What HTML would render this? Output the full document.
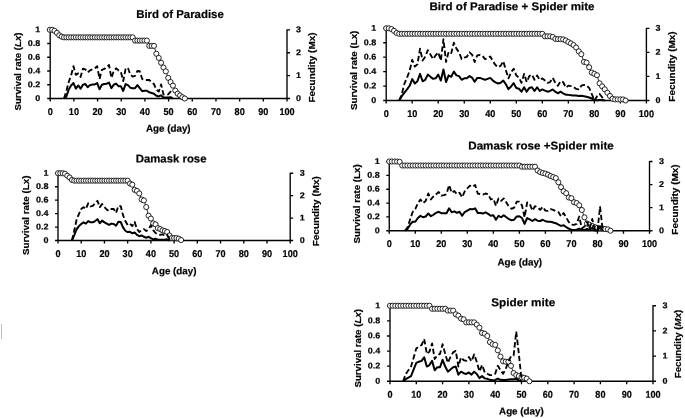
<!DOCTYPE html>
<html><head><meta charset="utf-8"><title>Survival rate and fecundity</title>
<style>
html,body{margin:0;padding:0;background:#fff;}
body{width:685px;height:418px;overflow:hidden;}
svg{display:block;font-family:"Liberation Sans", sans-serif;font-weight:bold;fill:#000;filter:blur(0.35px);}
text{stroke:#000;stroke-width:0.2px;}
</style></head>
<body>
<svg width="685" height="418" viewBox="0 0 685 418">
<rect width="685" height="418" fill="#fff"/>
<g>
<path d="M50.2 29.3V98.5H287V29.3M47.2 98.5H50.2M47.2 84.76H50.2M47.2 71.02H50.2M47.2 57.28H50.2M47.2 43.54H50.2M47.2 29.8H50.2M287 98.5H290M287 75.6H290M287 52.7H290M287 29.8H290M50.2 98.5V101.5M73.88 98.5V101.5M97.56 98.5V101.5M121.24 98.5V101.5M144.92 98.5V101.5M168.6 98.5V101.5M192.28 98.5V101.5M215.96 98.5V101.5M239.64 98.5V101.5M263.32 98.5V101.5M287 98.5V101.5" fill="none" stroke="#000" stroke-width="1.35"/>
<text x="40.3" y="100.91" font-size="8.4" text-anchor="end" textLength="5" lengthAdjust="spacingAndGlyphs" transform="rotate(0.04 40.3 100.91)">0</text>
<text x="40.3" y="87.17" font-size="8.4" text-anchor="end" textLength="12.49" lengthAdjust="spacingAndGlyphs" transform="rotate(0.04 40.3 87.17)">0.2</text>
<text x="40.3" y="73.43" font-size="8.4" text-anchor="end" textLength="12.49" lengthAdjust="spacingAndGlyphs" transform="rotate(0.04 40.3 73.43)">0.4</text>
<text x="40.3" y="59.69" font-size="8.4" text-anchor="end" textLength="12.49" lengthAdjust="spacingAndGlyphs" transform="rotate(0.04 40.3 59.69)">0.6</text>
<text x="40.3" y="45.95" font-size="8.4" text-anchor="end" textLength="12.49" lengthAdjust="spacingAndGlyphs" transform="rotate(0.04 40.3 45.95)">0.8</text>
<text x="40.3" y="32.21" font-size="8.4" text-anchor="end" textLength="5" lengthAdjust="spacingAndGlyphs" transform="rotate(0.04 40.3 32.21)">1</text>
<text x="296.1" y="101.01" font-size="8.4" text-anchor="start" textLength="5" lengthAdjust="spacingAndGlyphs" transform="rotate(0.04 296.1 101.01)">0</text>
<text x="296.1" y="78.11" font-size="8.4" text-anchor="start" textLength="5" lengthAdjust="spacingAndGlyphs" transform="rotate(0.04 296.1 78.11)">1</text>
<text x="296.1" y="55.21" font-size="8.4" text-anchor="start" textLength="5" lengthAdjust="spacingAndGlyphs" transform="rotate(0.04 296.1 55.21)">2</text>
<text x="296.1" y="32.31" font-size="8.4" text-anchor="start" textLength="5" lengthAdjust="spacingAndGlyphs" transform="rotate(0.04 296.1 32.31)">3</text>
<text x="50.2" y="114.94" font-size="9.9" text-anchor="middle" textLength="5.06" lengthAdjust="spacingAndGlyphs" transform="rotate(0.04 50.2 114.94)">0</text>
<text x="73.88" y="114.94" font-size="9.9" text-anchor="middle" textLength="10.13" lengthAdjust="spacingAndGlyphs" transform="rotate(0.04 73.88 114.94)">10</text>
<text x="97.56" y="114.94" font-size="9.9" text-anchor="middle" textLength="10.13" lengthAdjust="spacingAndGlyphs" transform="rotate(0.04 97.56 114.94)">20</text>
<text x="121.24" y="114.94" font-size="9.9" text-anchor="middle" textLength="10.13" lengthAdjust="spacingAndGlyphs" transform="rotate(0.04 121.24 114.94)">30</text>
<text x="144.92" y="114.94" font-size="9.9" text-anchor="middle" textLength="10.13" lengthAdjust="spacingAndGlyphs" transform="rotate(0.04 144.92 114.94)">40</text>
<text x="168.6" y="114.94" font-size="9.9" text-anchor="middle" textLength="10.13" lengthAdjust="spacingAndGlyphs" transform="rotate(0.04 168.6 114.94)">50</text>
<text x="192.28" y="114.94" font-size="9.9" text-anchor="middle" textLength="10.13" lengthAdjust="spacingAndGlyphs" transform="rotate(0.04 192.28 114.94)">60</text>
<text x="215.96" y="114.94" font-size="9.9" text-anchor="middle" textLength="10.13" lengthAdjust="spacingAndGlyphs" transform="rotate(0.04 215.96 114.94)">70</text>
<text x="239.64" y="114.94" font-size="9.9" text-anchor="middle" textLength="10.13" lengthAdjust="spacingAndGlyphs" transform="rotate(0.04 239.64 114.94)">80</text>
<text x="263.32" y="114.94" font-size="9.9" text-anchor="middle" textLength="10.13" lengthAdjust="spacingAndGlyphs" transform="rotate(0.04 263.32 114.94)">90</text>
<text x="287" y="114.94" font-size="9.9" text-anchor="middle" textLength="15.19" lengthAdjust="spacingAndGlyphs" transform="rotate(0.04 287 114.94)">100</text>
<text x="180" y="18" font-size="11.4" text-anchor="middle" textLength="87.7" lengthAdjust="spacingAndGlyphs" transform="rotate(0.04 180 18)">Bird of Paradise</text>
<text x="168.3" y="131.87" font-size="9.9" text-anchor="middle" textLength="44.7" lengthAdjust="spacingAndGlyphs" transform="rotate(0.04 168.3 131.87)">Age (day)</text>
<text x="21.12" y="71.5" font-size="9.2" text-anchor="middle" textLength="78" lengthAdjust="spacingAndGlyphs" transform="rotate(-90 21.12 71.5)">Survival rate (<tspan font-style="italic">Lx</tspan>)</text>
<text x="314.62" y="67.5" font-size="9.2" text-anchor="middle" textLength="70" lengthAdjust="spacingAndGlyphs" transform="rotate(-90 314.62 67.5)">Fecundity (Mx)</text>
<polyline points="49.8,29.8 52.17,29.8 54.54,30.83 56.9,32.89 59.27,35.3 61.64,36.67 64.01,37.36 66.38,37.36 68.74,37.36 71.11,37.36 73.48,37.36 75.85,37.36 78.22,37.36 80.58,37.36 82.95,37.36 85.32,37.36 87.69,37.36 90.06,37.36 92.42,37.36 94.79,37.36 97.16,37.36 99.53,37.36 101.9,37.36 104.26,37.36 106.63,37.36 109,37.36 111.37,37.36 113.74,37.36 116.1,37.36 118.47,37.36 120.84,37.36 123.21,37.36 125.58,37.36 127.94,37.36 130.31,37.36 132.68,37.36 135.05,40.59 137.42,40.59 139.78,40.59 142.15,40.59 144.52,40.59 146.89,40.59 149.26,45.88 151.62,45.88 153.99,45.88 156.36,53.78 158.73,57.9 161.1,62.78 163.46,67.52 165.83,71.36 168.2,77.89 170.57,82.01 172.94,85.65 175.3,90.6 177.67,93.69 180.04,95.41 182.41,97.26 184.78,98.5" fill="none" stroke="#000" stroke-width="0.8"/>
<g fill="#fff" stroke="#000" stroke-width="0.85">
<circle cx="49.8" cy="29.8" r="2.55"/>
<circle cx="52.17" cy="29.8" r="2.55"/>
<circle cx="54.54" cy="30.83" r="2.55"/>
<circle cx="56.9" cy="32.89" r="2.55"/>
<circle cx="59.27" cy="35.3" r="2.55"/>
<circle cx="61.64" cy="36.67" r="2.55"/>
<circle cx="64.01" cy="37.36" r="2.55"/>
<circle cx="66.38" cy="37.36" r="2.55"/>
<circle cx="68.74" cy="37.36" r="2.55"/>
<circle cx="71.11" cy="37.36" r="2.55"/>
<circle cx="73.48" cy="37.36" r="2.55"/>
<circle cx="75.85" cy="37.36" r="2.55"/>
<circle cx="78.22" cy="37.36" r="2.55"/>
<circle cx="80.58" cy="37.36" r="2.55"/>
<circle cx="82.95" cy="37.36" r="2.55"/>
<circle cx="85.32" cy="37.36" r="2.55"/>
<circle cx="87.69" cy="37.36" r="2.55"/>
<circle cx="90.06" cy="37.36" r="2.55"/>
<circle cx="92.42" cy="37.36" r="2.55"/>
<circle cx="94.79" cy="37.36" r="2.55"/>
<circle cx="97.16" cy="37.36" r="2.55"/>
<circle cx="99.53" cy="37.36" r="2.55"/>
<circle cx="101.9" cy="37.36" r="2.55"/>
<circle cx="104.26" cy="37.36" r="2.55"/>
<circle cx="106.63" cy="37.36" r="2.55"/>
<circle cx="109" cy="37.36" r="2.55"/>
<circle cx="111.37" cy="37.36" r="2.55"/>
<circle cx="113.74" cy="37.36" r="2.55"/>
<circle cx="116.1" cy="37.36" r="2.55"/>
<circle cx="118.47" cy="37.36" r="2.55"/>
<circle cx="120.84" cy="37.36" r="2.55"/>
<circle cx="123.21" cy="37.36" r="2.55"/>
<circle cx="125.58" cy="37.36" r="2.55"/>
<circle cx="127.94" cy="37.36" r="2.55"/>
<circle cx="130.31" cy="37.36" r="2.55"/>
<circle cx="132.68" cy="37.36" r="2.55"/>
<circle cx="135.05" cy="40.59" r="2.55"/>
<circle cx="137.42" cy="40.59" r="2.55"/>
<circle cx="139.78" cy="40.59" r="2.55"/>
<circle cx="142.15" cy="40.59" r="2.55"/>
<circle cx="144.52" cy="40.59" r="2.55"/>
<circle cx="146.89" cy="40.59" r="2.55"/>
<circle cx="149.26" cy="45.88" r="2.55"/>
<circle cx="151.62" cy="45.88" r="2.55"/>
<circle cx="153.99" cy="45.88" r="2.55"/>
<circle cx="156.36" cy="53.78" r="2.55"/>
<circle cx="158.73" cy="57.9" r="2.55"/>
<circle cx="161.1" cy="62.78" r="2.55"/>
<circle cx="163.46" cy="67.52" r="2.55"/>
<circle cx="165.83" cy="71.36" r="2.55"/>
<circle cx="168.2" cy="77.89" r="2.55"/>
<circle cx="170.57" cy="82.01" r="2.55"/>
<circle cx="172.94" cy="85.65" r="2.55"/>
<circle cx="175.3" cy="90.6" r="2.55"/>
<circle cx="177.67" cy="93.69" r="2.55"/>
<circle cx="180.04" cy="95.41" r="2.55"/>
<circle cx="182.41" cy="97.26" r="2.55"/>
<circle cx="184.78" cy="98.5" r="2.55"/>
</g>
<polyline points="64.01,98.5 66.38,90.94 68.74,82.01 71.11,75.42 73.48,66.21 75.85,74.87 78.22,73.36 80.58,76.93 82.95,68.75 85.32,69.3 87.69,72.39 90.06,70.33 92.42,69.3 94.79,68.27 97.16,66.21 99.53,78.99 101.9,69.78 104.26,68.96 106.63,67.24 109,64.97 111.37,77.89 113.74,71.02 116.1,68.27 118.47,70.33 120.84,71.71 123.21,81.05 125.58,68.96 127.94,67.72 130.31,74.87 132.68,76.52 135.05,75.83 137.42,71.02 139.78,71.29 142.15,78.99 144.52,79.95 146.89,79.95 149.26,79.95 151.62,82.56 153.99,84.07 156.36,89.71 158.73,91.63 161.1,84.42 163.46,94.38 165.83,94.79 168.2,94.38 170.57,91.63 172.94,93.69" fill="none" stroke="#000" stroke-width="1.85" stroke-dasharray="5.4 2.7" stroke-linejoin="round"/>
<polyline points="64.01,98.5 66.38,96.44 68.74,89.57 71.11,85.45 73.48,83.04 75.85,88.68 78.22,85.45 80.58,88.68 82.95,84.76 85.32,84.07 87.69,87.16 90.06,85.1 92.42,84.42 94.79,84.42 97.16,83.04 99.53,89.23 101.9,84.76 104.26,84.07 106.63,83.73 109,82.56 111.37,88.19 113.74,84.76 116.1,83.59 118.47,86.13 120.84,86.13 123.21,90.94 125.58,84.07 127.94,85.1 130.31,87.65 132.68,88.19 135.05,88.19 137.42,85.1 139.78,88.19 142.15,91.22 144.52,90.74 146.89,90.74 149.26,92.32 151.62,93 153.99,93.69 156.36,95.75 158.73,96.44 161.1,95.34 163.46,97.4 165.83,97.4 168.2,97.4 170.57,97.26 172.94,98.5" fill="none" stroke="#000" stroke-width="2.0" stroke-linejoin="round"/>
</g>
<g>
<path d="M386.2 27.8V100.5H646.4V27.8M383.2 100.5H386.2M383.2 86.06H386.2M383.2 71.62H386.2M383.2 57.18H386.2M383.2 42.74H386.2M383.2 28.3H386.2M646.4 100.5H649.4M646.4 76.43H649.4M646.4 52.37H649.4M646.4 28.3H649.4M386.2 100.5V103.5M412.22 100.5V103.5M438.24 100.5V103.5M464.26 100.5V103.5M490.28 100.5V103.5M516.3 100.5V103.5M542.32 100.5V103.5M568.34 100.5V103.5M594.36 100.5V103.5M620.38 100.5V103.5M646.4 100.5V103.5" fill="none" stroke="#000" stroke-width="1.35"/>
<text x="376.3" y="102.91" font-size="8.4" text-anchor="end" textLength="5" lengthAdjust="spacingAndGlyphs" transform="rotate(0.04 376.3 102.91)">0</text>
<text x="376.3" y="88.47" font-size="8.4" text-anchor="end" textLength="12.49" lengthAdjust="spacingAndGlyphs" transform="rotate(0.04 376.3 88.47)">0.2</text>
<text x="376.3" y="74.03" font-size="8.4" text-anchor="end" textLength="12.49" lengthAdjust="spacingAndGlyphs" transform="rotate(0.04 376.3 74.03)">0.4</text>
<text x="376.3" y="59.59" font-size="8.4" text-anchor="end" textLength="12.49" lengthAdjust="spacingAndGlyphs" transform="rotate(0.04 376.3 59.59)">0.6</text>
<text x="376.3" y="45.15" font-size="8.4" text-anchor="end" textLength="12.49" lengthAdjust="spacingAndGlyphs" transform="rotate(0.04 376.3 45.15)">0.8</text>
<text x="376.3" y="30.71" font-size="8.4" text-anchor="end" textLength="5" lengthAdjust="spacingAndGlyphs" transform="rotate(0.04 376.3 30.71)">1</text>
<text x="655.5" y="103.01" font-size="8.4" text-anchor="start" textLength="5" lengthAdjust="spacingAndGlyphs" transform="rotate(0.04 655.5 103.01)">0</text>
<text x="655.5" y="78.94" font-size="8.4" text-anchor="start" textLength="5" lengthAdjust="spacingAndGlyphs" transform="rotate(0.04 655.5 78.94)">1</text>
<text x="655.5" y="54.87" font-size="8.4" text-anchor="start" textLength="5" lengthAdjust="spacingAndGlyphs" transform="rotate(0.04 655.5 54.87)">2</text>
<text x="655.5" y="30.81" font-size="8.4" text-anchor="start" textLength="5" lengthAdjust="spacingAndGlyphs" transform="rotate(0.04 655.5 30.81)">3</text>
<text x="386.2" y="117.14" font-size="9.9" text-anchor="middle" textLength="5.06" lengthAdjust="spacingAndGlyphs" transform="rotate(0.04 386.2 117.14)">0</text>
<text x="412.22" y="117.14" font-size="9.9" text-anchor="middle" textLength="10.13" lengthAdjust="spacingAndGlyphs" transform="rotate(0.04 412.22 117.14)">10</text>
<text x="438.24" y="117.14" font-size="9.9" text-anchor="middle" textLength="10.13" lengthAdjust="spacingAndGlyphs" transform="rotate(0.04 438.24 117.14)">20</text>
<text x="464.26" y="117.14" font-size="9.9" text-anchor="middle" textLength="10.13" lengthAdjust="spacingAndGlyphs" transform="rotate(0.04 464.26 117.14)">30</text>
<text x="490.28" y="117.14" font-size="9.9" text-anchor="middle" textLength="10.13" lengthAdjust="spacingAndGlyphs" transform="rotate(0.04 490.28 117.14)">40</text>
<text x="516.3" y="117.14" font-size="9.9" text-anchor="middle" textLength="10.13" lengthAdjust="spacingAndGlyphs" transform="rotate(0.04 516.3 117.14)">50</text>
<text x="542.32" y="117.14" font-size="9.9" text-anchor="middle" textLength="10.13" lengthAdjust="spacingAndGlyphs" transform="rotate(0.04 542.32 117.14)">60</text>
<text x="568.34" y="117.14" font-size="9.9" text-anchor="middle" textLength="10.13" lengthAdjust="spacingAndGlyphs" transform="rotate(0.04 568.34 117.14)">70</text>
<text x="594.36" y="117.14" font-size="9.9" text-anchor="middle" textLength="10.13" lengthAdjust="spacingAndGlyphs" transform="rotate(0.04 594.36 117.14)">80</text>
<text x="620.38" y="117.14" font-size="9.9" text-anchor="middle" textLength="10.13" lengthAdjust="spacingAndGlyphs" transform="rotate(0.04 620.38 117.14)">90</text>
<text x="646.4" y="117.14" font-size="9.9" text-anchor="middle" textLength="15.19" lengthAdjust="spacingAndGlyphs" transform="rotate(0.04 646.4 117.14)">100</text>
<text x="512" y="10.3" font-size="11.4" text-anchor="middle" textLength="165" lengthAdjust="spacingAndGlyphs" transform="rotate(0.04 512 10.3)">Bird of Paradise + Spider mite</text>
<text x="357.02" y="70.3" font-size="9.2" text-anchor="middle" textLength="79.4" lengthAdjust="spacingAndGlyphs" transform="rotate(-90 357.02 70.3)">Survival rate (Lx)</text>
<text x="674.72" y="66.5" font-size="9.2" text-anchor="middle" textLength="70.4" lengthAdjust="spacingAndGlyphs" transform="rotate(-90 674.72 66.5)">Fecundity (Mx)</text>
<polyline points="386.2,28.3 388.8,28.3 391.4,29.02 394.01,30.83 396.61,32.99 399.21,33.79 401.81,33.79 404.41,33.79 407.02,33.79 409.62,33.79 412.22,33.79 414.82,33.79 417.42,33.79 420.03,33.79 422.63,33.79 425.23,33.79 427.83,33.79 430.43,33.79 433.04,33.79 435.64,33.79 438.24,33.79 440.84,33.79 443.44,33.79 446.05,33.79 448.65,33.79 451.25,33.79 453.85,33.79 456.45,33.79 459.06,33.79 461.66,33.79 464.26,33.79 466.86,33.79 469.46,33.79 472.07,33.79 474.67,33.79 477.27,33.79 479.87,33.79 482.47,33.79 485.08,33.79 487.68,33.79 490.28,33.79 492.88,33.79 495.48,33.79 498.09,33.79 500.69,33.79 503.29,33.79 505.89,33.79 508.49,33.79 511.1,33.79 513.7,33.79 516.3,33.79 518.9,33.79 521.5,33.79 524.11,33.79 526.71,33.79 529.31,33.79 531.91,33.79 534.51,33.79 537.12,33.79 539.72,33.79 542.32,33.79 544.92,36.31 547.52,36.31 550.13,36.31 552.73,36.96 555.33,38.91 557.93,39.13 560.53,39.13 563.14,39.35 565.74,40.5 568.34,42.02 570.94,43.39 573.54,45.12 576.15,47.51 578.75,51.33 581.35,54.22 583.95,61.87 586.55,62.59 589.16,67.22 591.76,72.63 594.36,73.86 596.96,75.23 599.56,83.32 602.17,86.35 604.77,89.31 607.37,92.77 609.97,95.95 612.57,98.77 615.18,99.42 617.78,99.42 620.38,99.42 622.98,99.42 625.58,100.5" fill="none" stroke="#000" stroke-width="0.8"/>
<g fill="#fff" stroke="#000" stroke-width="0.85">
<circle cx="386.2" cy="28.3" r="2.55"/>
<circle cx="388.8" cy="28.3" r="2.55"/>
<circle cx="391.4" cy="29.02" r="2.55"/>
<circle cx="394.01" cy="30.83" r="2.55"/>
<circle cx="396.61" cy="32.99" r="2.55"/>
<circle cx="399.21" cy="33.79" r="2.55"/>
<circle cx="401.81" cy="33.79" r="2.55"/>
<circle cx="404.41" cy="33.79" r="2.55"/>
<circle cx="407.02" cy="33.79" r="2.55"/>
<circle cx="409.62" cy="33.79" r="2.55"/>
<circle cx="412.22" cy="33.79" r="2.55"/>
<circle cx="414.82" cy="33.79" r="2.55"/>
<circle cx="417.42" cy="33.79" r="2.55"/>
<circle cx="420.03" cy="33.79" r="2.55"/>
<circle cx="422.63" cy="33.79" r="2.55"/>
<circle cx="425.23" cy="33.79" r="2.55"/>
<circle cx="427.83" cy="33.79" r="2.55"/>
<circle cx="430.43" cy="33.79" r="2.55"/>
<circle cx="433.04" cy="33.79" r="2.55"/>
<circle cx="435.64" cy="33.79" r="2.55"/>
<circle cx="438.24" cy="33.79" r="2.55"/>
<circle cx="440.84" cy="33.79" r="2.55"/>
<circle cx="443.44" cy="33.79" r="2.55"/>
<circle cx="446.05" cy="33.79" r="2.55"/>
<circle cx="448.65" cy="33.79" r="2.55"/>
<circle cx="451.25" cy="33.79" r="2.55"/>
<circle cx="453.85" cy="33.79" r="2.55"/>
<circle cx="456.45" cy="33.79" r="2.55"/>
<circle cx="459.06" cy="33.79" r="2.55"/>
<circle cx="461.66" cy="33.79" r="2.55"/>
<circle cx="464.26" cy="33.79" r="2.55"/>
<circle cx="466.86" cy="33.79" r="2.55"/>
<circle cx="469.46" cy="33.79" r="2.55"/>
<circle cx="472.07" cy="33.79" r="2.55"/>
<circle cx="474.67" cy="33.79" r="2.55"/>
<circle cx="477.27" cy="33.79" r="2.55"/>
<circle cx="479.87" cy="33.79" r="2.55"/>
<circle cx="482.47" cy="33.79" r="2.55"/>
<circle cx="485.08" cy="33.79" r="2.55"/>
<circle cx="487.68" cy="33.79" r="2.55"/>
<circle cx="490.28" cy="33.79" r="2.55"/>
<circle cx="492.88" cy="33.79" r="2.55"/>
<circle cx="495.48" cy="33.79" r="2.55"/>
<circle cx="498.09" cy="33.79" r="2.55"/>
<circle cx="500.69" cy="33.79" r="2.55"/>
<circle cx="503.29" cy="33.79" r="2.55"/>
<circle cx="505.89" cy="33.79" r="2.55"/>
<circle cx="508.49" cy="33.79" r="2.55"/>
<circle cx="511.1" cy="33.79" r="2.55"/>
<circle cx="513.7" cy="33.79" r="2.55"/>
<circle cx="516.3" cy="33.79" r="2.55"/>
<circle cx="518.9" cy="33.79" r="2.55"/>
<circle cx="521.5" cy="33.79" r="2.55"/>
<circle cx="524.11" cy="33.79" r="2.55"/>
<circle cx="526.71" cy="33.79" r="2.55"/>
<circle cx="529.31" cy="33.79" r="2.55"/>
<circle cx="531.91" cy="33.79" r="2.55"/>
<circle cx="534.51" cy="33.79" r="2.55"/>
<circle cx="537.12" cy="33.79" r="2.55"/>
<circle cx="539.72" cy="33.79" r="2.55"/>
<circle cx="542.32" cy="33.79" r="2.55"/>
<circle cx="544.92" cy="36.31" r="2.55"/>
<circle cx="547.52" cy="36.31" r="2.55"/>
<circle cx="550.13" cy="36.31" r="2.55"/>
<circle cx="552.73" cy="36.96" r="2.55"/>
<circle cx="555.33" cy="38.91" r="2.55"/>
<circle cx="557.93" cy="39.13" r="2.55"/>
<circle cx="560.53" cy="39.13" r="2.55"/>
<circle cx="563.14" cy="39.35" r="2.55"/>
<circle cx="565.74" cy="40.5" r="2.55"/>
<circle cx="568.34" cy="42.02" r="2.55"/>
<circle cx="570.94" cy="43.39" r="2.55"/>
<circle cx="573.54" cy="45.12" r="2.55"/>
<circle cx="576.15" cy="47.51" r="2.55"/>
<circle cx="578.75" cy="51.33" r="2.55"/>
<circle cx="581.35" cy="54.22" r="2.55"/>
<circle cx="583.95" cy="61.87" r="2.55"/>
<circle cx="586.55" cy="62.59" r="2.55"/>
<circle cx="589.16" cy="67.22" r="2.55"/>
<circle cx="591.76" cy="72.63" r="2.55"/>
<circle cx="594.36" cy="73.86" r="2.55"/>
<circle cx="596.96" cy="75.23" r="2.55"/>
<circle cx="599.56" cy="83.32" r="2.55"/>
<circle cx="602.17" cy="86.35" r="2.55"/>
<circle cx="604.77" cy="89.31" r="2.55"/>
<circle cx="607.37" cy="92.77" r="2.55"/>
<circle cx="609.97" cy="95.95" r="2.55"/>
<circle cx="612.57" cy="98.77" r="2.55"/>
<circle cx="615.18" cy="99.42" r="2.55"/>
<circle cx="617.78" cy="99.42" r="2.55"/>
<circle cx="620.38" cy="99.42" r="2.55"/>
<circle cx="622.98" cy="99.42" r="2.55"/>
<circle cx="625.58" cy="100.5" r="2.55"/>
</g>
<polyline points="399.21,100.5 401.81,94 404.41,83.53 407.02,77.61 409.62,70.9 412.22,59.78 414.82,66.57 417.42,64.4 420.03,48.66 422.63,60.5 425.23,56.82 427.83,50.1 430.43,54.58 433.04,59.06 435.64,55.3 438.24,52.34 440.84,60.5 443.44,39.13 446.05,62.02 448.65,51.62 451.25,53.06 453.85,42.74 456.45,48.66 459.06,52.34 461.66,59.06 464.26,57.54 466.86,56.82 469.46,52.34 472.07,54.58 474.67,62.02 477.27,55.3 479.87,55.01 482.47,55.74 485.08,59.06 487.68,58.26 490.28,56.46 492.88,61.22 495.48,64.98 498.09,67.22 500.69,65.7 503.29,61.22 505.89,70.18 508.49,78.33 511.1,72.41 513.7,68.66 516.3,75.37 518.9,77.61 521.5,82.81 524.11,73.86 526.71,82.02 529.31,76.1 531.91,74.58 534.51,79.78 537.12,75.37 539.72,79.78 542.32,78.33 544.92,80.57 547.52,82.81 550.13,82.02 552.73,77.9 555.33,82.81 557.93,85.77 560.53,81.29 563.14,82.02 565.74,87.5 568.34,85.7 570.94,86.06 573.54,86.78 576.15,88.95 578.75,89.31 581.35,85.7 583.95,84.98 586.55,85.7 589.16,87.86 591.76,94 594.36,100.5 596.96,96.53 599.56,94 602.17,97.25 604.77,100.5" fill="none" stroke="#000" stroke-width="1.85" stroke-dasharray="5.4 2.7" stroke-linejoin="round"/>
<polyline points="399.21,100.5 401.81,96.17 404.41,92.56 407.02,89.45 409.62,85.77 412.22,79.06 414.82,83.53 417.42,81.29 420.03,73.86 422.63,81.29 425.23,79.78 427.83,74.58 430.43,76.82 433.04,78.84 435.64,78.33 438.24,74.58 440.84,80.57 443.44,69.45 446.05,82.02 448.65,75.37 451.25,76.82 453.85,71.62 456.45,75.37 459.06,76.1 461.66,79.78 464.26,78.33 466.86,78.33 469.46,76.1 472.07,77.61 474.67,81.73 477.27,77.9 479.87,77.9 482.47,78.84 485.08,79.78 487.68,78.84 490.28,77.9 492.88,80.57 495.48,82.31 498.09,83.53 500.69,82.81 503.29,80.57 505.89,84.25 508.49,89.16 511.1,86.49 513.7,83.17 516.3,87.94 518.9,88.73 521.5,91.69 524.11,87.22 526.71,91.69 529.31,87.94 531.91,87.22 534.51,90.97 537.12,87.22 539.72,90.97 542.32,89.45 544.92,90.61 547.52,91.69 550.13,90.97 552.73,89.45 555.33,91.69 557.93,93.28 560.53,91.69 563.14,93.28 565.74,94.72 568.34,94.87 570.94,95.16 573.54,95.45 576.15,95.45 578.75,95.95 581.35,95.73 583.95,96.17 586.55,96.75 589.16,97.47 591.76,98.48 594.36,99.92 596.96,100.21 599.56,100.07 602.17,100.07 604.77,100.5" fill="none" stroke="#000" stroke-width="2.0" stroke-linejoin="round"/>
</g>
<g>
<path d="M58 172.75V240.5H290.2V172.75M55 240.5H58M55 227.05H58M55 213.6H58M55 200.15H58M55 186.7H58M55 173.25H58M290.2 240.5H293.2M290.2 218.08H293.2M290.2 195.67H293.2M290.2 173.25H293.2M58 240.5V243.5M81.22 240.5V243.5M104.44 240.5V243.5M127.66 240.5V243.5M150.88 240.5V243.5M174.1 240.5V243.5M197.32 240.5V243.5M220.54 240.5V243.5M243.76 240.5V243.5M266.98 240.5V243.5M290.2 240.5V243.5" fill="none" stroke="#000" stroke-width="1.35"/>
<text x="48.5" y="242.91" font-size="8.4" text-anchor="end" textLength="5" lengthAdjust="spacingAndGlyphs" transform="rotate(0.04 48.5 242.91)">0</text>
<text x="48.5" y="229.46" font-size="8.4" text-anchor="end" textLength="12.49" lengthAdjust="spacingAndGlyphs" transform="rotate(0.04 48.5 229.46)">0.2</text>
<text x="48.5" y="216.01" font-size="8.4" text-anchor="end" textLength="12.49" lengthAdjust="spacingAndGlyphs" transform="rotate(0.04 48.5 216.01)">0.4</text>
<text x="48.5" y="202.56" font-size="8.4" text-anchor="end" textLength="12.49" lengthAdjust="spacingAndGlyphs" transform="rotate(0.04 48.5 202.56)">0.6</text>
<text x="48.5" y="189.11" font-size="8.4" text-anchor="end" textLength="12.49" lengthAdjust="spacingAndGlyphs" transform="rotate(0.04 48.5 189.11)">0.8</text>
<text x="48.5" y="175.66" font-size="8.4" text-anchor="end" textLength="5" lengthAdjust="spacingAndGlyphs" transform="rotate(0.04 48.5 175.66)">1</text>
<text x="299.7" y="243.01" font-size="8.4" text-anchor="start" textLength="5" lengthAdjust="spacingAndGlyphs" transform="rotate(0.04 299.7 243.01)">0</text>
<text x="299.7" y="220.59" font-size="8.4" text-anchor="start" textLength="5" lengthAdjust="spacingAndGlyphs" transform="rotate(0.04 299.7 220.59)">1</text>
<text x="299.7" y="198.17" font-size="8.4" text-anchor="start" textLength="5" lengthAdjust="spacingAndGlyphs" transform="rotate(0.04 299.7 198.17)">2</text>
<text x="299.7" y="175.76" font-size="8.4" text-anchor="start" textLength="5" lengthAdjust="spacingAndGlyphs" transform="rotate(0.04 299.7 175.76)">3</text>
<text x="58" y="257.04" font-size="9.9" text-anchor="middle" textLength="5.06" lengthAdjust="spacingAndGlyphs" transform="rotate(0.04 58 257.04)">0</text>
<text x="81.22" y="257.04" font-size="9.9" text-anchor="middle" textLength="10.13" lengthAdjust="spacingAndGlyphs" transform="rotate(0.04 81.22 257.04)">10</text>
<text x="104.44" y="257.04" font-size="9.9" text-anchor="middle" textLength="10.13" lengthAdjust="spacingAndGlyphs" transform="rotate(0.04 104.44 257.04)">20</text>
<text x="127.66" y="257.04" font-size="9.9" text-anchor="middle" textLength="10.13" lengthAdjust="spacingAndGlyphs" transform="rotate(0.04 127.66 257.04)">30</text>
<text x="150.88" y="257.04" font-size="9.9" text-anchor="middle" textLength="10.13" lengthAdjust="spacingAndGlyphs" transform="rotate(0.04 150.88 257.04)">40</text>
<text x="174.1" y="257.04" font-size="9.9" text-anchor="middle" textLength="10.13" lengthAdjust="spacingAndGlyphs" transform="rotate(0.04 174.1 257.04)">50</text>
<text x="197.32" y="257.04" font-size="9.9" text-anchor="middle" textLength="10.13" lengthAdjust="spacingAndGlyphs" transform="rotate(0.04 197.32 257.04)">60</text>
<text x="220.54" y="257.04" font-size="9.9" text-anchor="middle" textLength="10.13" lengthAdjust="spacingAndGlyphs" transform="rotate(0.04 220.54 257.04)">70</text>
<text x="243.76" y="257.04" font-size="9.9" text-anchor="middle" textLength="10.13" lengthAdjust="spacingAndGlyphs" transform="rotate(0.04 243.76 257.04)">80</text>
<text x="266.98" y="257.04" font-size="9.9" text-anchor="middle" textLength="10.13" lengthAdjust="spacingAndGlyphs" transform="rotate(0.04 266.98 257.04)">90</text>
<text x="290.2" y="257.04" font-size="9.9" text-anchor="middle" textLength="15.19" lengthAdjust="spacingAndGlyphs" transform="rotate(0.04 290.2 257.04)">100</text>
<text x="171.1" y="162.5" font-size="11.4" text-anchor="middle" textLength="70.7" lengthAdjust="spacingAndGlyphs" transform="rotate(0.04 171.1 162.5)">Damask rose</text>
<text x="174.2" y="274.36" font-size="9.9" text-anchor="middle" textLength="44.7" lengthAdjust="spacingAndGlyphs" transform="rotate(0.04 174.2 274.36)">Age (day)</text>
<text x="28.52" y="215.3" font-size="9.2" text-anchor="middle" textLength="79.4" lengthAdjust="spacingAndGlyphs" transform="rotate(-90 28.52 215.3)">Survival rate (Lx)</text>
<text x="318.62" y="211.2" font-size="9.2" text-anchor="middle" textLength="70" lengthAdjust="spacingAndGlyphs" transform="rotate(-90 318.62 211.2)">Fecundity (Mx)</text>
<polyline points="58,173.25 60.32,173.25 62.64,173.25 64.97,173.72 67.29,175.74 69.61,177.49 71.93,179.97 74.25,180.65 76.58,180.65 78.9,180.65 81.22,180.65 83.54,180.65 85.86,180.65 88.19,180.65 90.51,180.65 92.83,180.65 95.15,180.65 97.47,180.65 99.8,180.65 102.12,180.65 104.44,180.65 106.76,180.65 109.08,180.65 111.41,180.65 113.73,180.65 116.05,180.65 118.37,180.65 120.69,180.65 123.02,180.65 125.34,180.65 127.66,180.65 129.98,183.54 132.3,184.68 134.63,189.86 136.95,190.87 139.27,193.43 141.59,199.48 143.91,200.42 146.24,207.08 148.56,215.68 150.88,218.58 153.2,223.35 155.52,224.36 157.85,228.13 160.17,229.07 162.49,230.41 164.81,231.02 167.13,231.96 169.46,235.46 171.78,238.08 174.1,238.08 176.42,238.08 178.74,238.68 181.07,240.03" fill="none" stroke="#000" stroke-width="0.8"/>
<g fill="#fff" stroke="#000" stroke-width="0.85">
<circle cx="58" cy="173.25" r="2.55"/>
<circle cx="60.32" cy="173.25" r="2.55"/>
<circle cx="62.64" cy="173.25" r="2.55"/>
<circle cx="64.97" cy="173.72" r="2.55"/>
<circle cx="67.29" cy="175.74" r="2.55"/>
<circle cx="69.61" cy="177.49" r="2.55"/>
<circle cx="71.93" cy="179.97" r="2.55"/>
<circle cx="74.25" cy="180.65" r="2.55"/>
<circle cx="76.58" cy="180.65" r="2.55"/>
<circle cx="78.9" cy="180.65" r="2.55"/>
<circle cx="81.22" cy="180.65" r="2.55"/>
<circle cx="83.54" cy="180.65" r="2.55"/>
<circle cx="85.86" cy="180.65" r="2.55"/>
<circle cx="88.19" cy="180.65" r="2.55"/>
<circle cx="90.51" cy="180.65" r="2.55"/>
<circle cx="92.83" cy="180.65" r="2.55"/>
<circle cx="95.15" cy="180.65" r="2.55"/>
<circle cx="97.47" cy="180.65" r="2.55"/>
<circle cx="99.8" cy="180.65" r="2.55"/>
<circle cx="102.12" cy="180.65" r="2.55"/>
<circle cx="104.44" cy="180.65" r="2.55"/>
<circle cx="106.76" cy="180.65" r="2.55"/>
<circle cx="109.08" cy="180.65" r="2.55"/>
<circle cx="111.41" cy="180.65" r="2.55"/>
<circle cx="113.73" cy="180.65" r="2.55"/>
<circle cx="116.05" cy="180.65" r="2.55"/>
<circle cx="118.37" cy="180.65" r="2.55"/>
<circle cx="120.69" cy="180.65" r="2.55"/>
<circle cx="123.02" cy="180.65" r="2.55"/>
<circle cx="125.34" cy="180.65" r="2.55"/>
<circle cx="127.66" cy="180.65" r="2.55"/>
<circle cx="129.98" cy="183.54" r="2.55"/>
<circle cx="132.3" cy="184.68" r="2.55"/>
<circle cx="134.63" cy="189.86" r="2.55"/>
<circle cx="136.95" cy="190.87" r="2.55"/>
<circle cx="139.27" cy="193.43" r="2.55"/>
<circle cx="141.59" cy="199.48" r="2.55"/>
<circle cx="143.91" cy="200.42" r="2.55"/>
<circle cx="146.24" cy="207.08" r="2.55"/>
<circle cx="148.56" cy="215.68" r="2.55"/>
<circle cx="150.88" cy="218.58" r="2.55"/>
<circle cx="153.2" cy="223.35" r="2.55"/>
<circle cx="155.52" cy="224.36" r="2.55"/>
<circle cx="157.85" cy="228.13" r="2.55"/>
<circle cx="160.17" cy="229.07" r="2.55"/>
<circle cx="162.49" cy="230.41" r="2.55"/>
<circle cx="164.81" cy="231.02" r="2.55"/>
<circle cx="167.13" cy="231.96" r="2.55"/>
<circle cx="169.46" cy="235.46" r="2.55"/>
<circle cx="171.78" cy="238.08" r="2.55"/>
<circle cx="174.1" cy="238.08" r="2.55"/>
<circle cx="176.42" cy="238.08" r="2.55"/>
<circle cx="178.74" cy="238.68" r="2.55"/>
<circle cx="181.07" cy="240.03" r="2.55"/>
</g>
<polyline points="71.93,240.5 74.25,230.55 76.58,219.79 78.9,214.07 81.22,209.03 83.54,207.14 85.86,209.03 88.19,203.31 90.51,206.47 92.83,205.87 95.15,203.31 97.47,200.82 99.8,207.14 102.12,203.98 104.44,207.14 106.76,209.63 109.08,210.91 111.41,209.03 113.73,209.03 116.05,212.93 118.37,205.87 120.69,206.07 123.02,215.21 125.34,221 127.66,225.03 129.98,223.82 132.3,226.18 134.63,221.87 136.95,229.13 139.27,231.96 141.59,230.08 143.91,229.13 146.24,231.09 148.56,229.13 150.88,225.3 153.2,230.08 155.52,232.97 157.85,234.31 160.17,234.85 162.49,234.31 164.81,235.46 167.13,234.85 169.46,238.68 171.78,240.5" fill="none" stroke="#000" stroke-width="1.85" stroke-dasharray="5.4 2.7" stroke-linejoin="round"/>
<polyline points="71.93,240.5 74.25,235.12 76.58,229.34 78.9,226.11 81.22,223.96 83.54,222.34 85.86,223.62 88.19,221.06 90.51,222.34 92.83,222.34 95.15,221.06 97.47,219.18 99.8,223.22 102.12,220.66 104.44,222.34 106.76,223.62 109.08,224.9 111.41,223.62 113.73,223.96 116.05,225.71 118.37,221.67 120.69,222.01 123.02,227.39 125.34,230.75 127.66,232.09 129.98,231.76 132.3,233.3 134.63,232.43 136.95,234.85 139.27,236.2 141.59,235.46 143.91,236.8 146.24,237.74 148.56,236.8 150.88,238.08 153.2,239.29 155.52,238.68 157.85,239.63 160.17,239.69 162.49,239.69 164.81,239.56 167.13,239.29 169.46,240.5" fill="none" stroke="#000" stroke-width="2.0" stroke-linejoin="round"/>
</g>
<g>
<path d="M389.25 161V230.75H649.5V161M386.25 230.75H389.25M386.25 216.9H389.25M386.25 203.05H389.25M386.25 189.2H389.25M386.25 175.35H389.25M386.25 161.5H389.25M649.5 230.75H652.5M649.5 207.67H652.5M649.5 184.58H652.5M649.5 161.5H652.5M389.25 230.75V233.75M415.27 230.75V233.75M441.3 230.75V233.75M467.32 230.75V233.75M493.35 230.75V233.75M519.38 230.75V233.75M545.4 230.75V233.75M571.42 230.75V233.75M597.45 230.75V233.75M623.48 230.75V233.75M649.5 230.75V233.75" fill="none" stroke="#000" stroke-width="1.35"/>
<text x="379.8" y="233.16" font-size="8.4" text-anchor="end" textLength="5" lengthAdjust="spacingAndGlyphs" transform="rotate(0.04 379.8 233.16)">0</text>
<text x="379.8" y="219.31" font-size="8.4" text-anchor="end" textLength="12.49" lengthAdjust="spacingAndGlyphs" transform="rotate(0.04 379.8 219.31)">0.2</text>
<text x="379.8" y="205.46" font-size="8.4" text-anchor="end" textLength="12.49" lengthAdjust="spacingAndGlyphs" transform="rotate(0.04 379.8 205.46)">0.4</text>
<text x="379.8" y="191.61" font-size="8.4" text-anchor="end" textLength="12.49" lengthAdjust="spacingAndGlyphs" transform="rotate(0.04 379.8 191.61)">0.6</text>
<text x="379.8" y="177.76" font-size="8.4" text-anchor="end" textLength="12.49" lengthAdjust="spacingAndGlyphs" transform="rotate(0.04 379.8 177.76)">0.8</text>
<text x="379.8" y="163.91" font-size="8.4" text-anchor="end" textLength="5" lengthAdjust="spacingAndGlyphs" transform="rotate(0.04 379.8 163.91)">1</text>
<text x="658.9" y="233.26" font-size="8.4" text-anchor="start" textLength="5" lengthAdjust="spacingAndGlyphs" transform="rotate(0.04 658.9 233.26)">0</text>
<text x="658.9" y="210.17" font-size="8.4" text-anchor="start" textLength="5" lengthAdjust="spacingAndGlyphs" transform="rotate(0.04 658.9 210.17)">1</text>
<text x="658.9" y="187.09" font-size="8.4" text-anchor="start" textLength="5" lengthAdjust="spacingAndGlyphs" transform="rotate(0.04 658.9 187.09)">2</text>
<text x="658.9" y="164.01" font-size="8.4" text-anchor="start" textLength="5" lengthAdjust="spacingAndGlyphs" transform="rotate(0.04 658.9 164.01)">3</text>
<text x="389.25" y="247.04" font-size="9.9" text-anchor="middle" textLength="5.06" lengthAdjust="spacingAndGlyphs" transform="rotate(0.04 389.25 247.04)">0</text>
<text x="415.27" y="247.04" font-size="9.9" text-anchor="middle" textLength="10.13" lengthAdjust="spacingAndGlyphs" transform="rotate(0.04 415.27 247.04)">10</text>
<text x="441.3" y="247.04" font-size="9.9" text-anchor="middle" textLength="10.13" lengthAdjust="spacingAndGlyphs" transform="rotate(0.04 441.3 247.04)">20</text>
<text x="467.32" y="247.04" font-size="9.9" text-anchor="middle" textLength="10.13" lengthAdjust="spacingAndGlyphs" transform="rotate(0.04 467.32 247.04)">30</text>
<text x="493.35" y="247.04" font-size="9.9" text-anchor="middle" textLength="10.13" lengthAdjust="spacingAndGlyphs" transform="rotate(0.04 493.35 247.04)">40</text>
<text x="519.38" y="247.04" font-size="9.9" text-anchor="middle" textLength="10.13" lengthAdjust="spacingAndGlyphs" transform="rotate(0.04 519.38 247.04)">50</text>
<text x="545.4" y="247.04" font-size="9.9" text-anchor="middle" textLength="10.13" lengthAdjust="spacingAndGlyphs" transform="rotate(0.04 545.4 247.04)">60</text>
<text x="571.42" y="247.04" font-size="9.9" text-anchor="middle" textLength="10.13" lengthAdjust="spacingAndGlyphs" transform="rotate(0.04 571.42 247.04)">70</text>
<text x="597.45" y="247.04" font-size="9.9" text-anchor="middle" textLength="10.13" lengthAdjust="spacingAndGlyphs" transform="rotate(0.04 597.45 247.04)">80</text>
<text x="623.48" y="247.04" font-size="9.9" text-anchor="middle" textLength="10.13" lengthAdjust="spacingAndGlyphs" transform="rotate(0.04 623.48 247.04)">90</text>
<text x="649.5" y="247.04" font-size="9.9" text-anchor="middle" textLength="15.19" lengthAdjust="spacingAndGlyphs" transform="rotate(0.04 649.5 247.04)">100</text>
<text x="541" y="149.5" font-size="11.4" text-anchor="middle" textLength="145.5" lengthAdjust="spacingAndGlyphs" transform="rotate(0.04 541 149.5)">Damask rose +Spider mite</text>
<text x="519.8" y="265.46" font-size="9.9" text-anchor="middle" textLength="44.7" lengthAdjust="spacingAndGlyphs" transform="rotate(0.04 519.8 265.46)">Age (day)</text>
<text x="360.42" y="203.9" font-size="9.2" text-anchor="middle" textLength="79.2" lengthAdjust="spacingAndGlyphs" transform="rotate(-90 360.42 203.9)">Survival rate (Lx)</text>
<text x="677.72" y="199.5" font-size="9.2" text-anchor="middle" textLength="70.4" lengthAdjust="spacingAndGlyphs" transform="rotate(-90 677.72 199.5)">Fecundity (Mx)</text>
<polyline points="389.25,161.5 391.85,161.5 394.45,161.5 397.06,161.5 399.66,161.85 402.26,165.52 404.87,165.52 407.47,165.52 410.07,165.52 412.67,165.52 415.27,165.52 417.88,165.52 420.48,165.52 423.08,165.52 425.69,165.52 428.29,165.52 430.89,165.52 433.49,165.52 436.1,165.52 438.7,165.52 441.3,165.52 443.9,165.52 446.5,165.52 449.11,165.52 451.71,165.52 454.31,165.52 456.92,165.52 459.52,165.52 462.12,165.52 464.72,165.52 467.32,165.52 469.93,165.52 472.53,165.52 475.13,165.52 477.74,165.52 480.34,165.52 482.94,165.52 485.54,165.52 488.14,165.52 490.75,165.52 493.35,165.52 495.95,165.52 498.56,165.52 501.16,165.52 503.76,165.52 506.36,165.52 508.97,165.52 511.57,165.52 514.17,165.52 516.77,165.52 519.38,165.52 521.98,166.69 524.58,166.69 527.18,166.69 529.78,166.69 532.39,166.69 534.99,166.69 537.59,170.5 540.19,172.1 542.8,173.06 545.4,173.62 548,174.66 550.61,176.04 553.21,177.08 555.81,178.12 558.41,182.28 561.01,187.12 563.62,191.28 566.22,193.22 568.82,197.51 571.42,198.2 574.03,202.22 576.63,203.05 579.23,205.27 581.84,209.97 584.44,217.32 587.04,223.48 589.64,224.86 592.25,226.04 594.85,227.15 597.45,227.84 600.05,228.33 602.65,228.67 605.26,229.02 607.86,229.37 610.46,230.75" fill="none" stroke="#000" stroke-width="0.8"/>
<g fill="#fff" stroke="#000" stroke-width="0.85">
<circle cx="389.25" cy="161.5" r="2.55"/>
<circle cx="391.85" cy="161.5" r="2.55"/>
<circle cx="394.45" cy="161.5" r="2.55"/>
<circle cx="397.06" cy="161.5" r="2.55"/>
<circle cx="399.66" cy="161.85" r="2.55"/>
<circle cx="402.26" cy="165.52" r="2.55"/>
<circle cx="404.87" cy="165.52" r="2.55"/>
<circle cx="407.47" cy="165.52" r="2.55"/>
<circle cx="410.07" cy="165.52" r="2.55"/>
<circle cx="412.67" cy="165.52" r="2.55"/>
<circle cx="415.27" cy="165.52" r="2.55"/>
<circle cx="417.88" cy="165.52" r="2.55"/>
<circle cx="420.48" cy="165.52" r="2.55"/>
<circle cx="423.08" cy="165.52" r="2.55"/>
<circle cx="425.69" cy="165.52" r="2.55"/>
<circle cx="428.29" cy="165.52" r="2.55"/>
<circle cx="430.89" cy="165.52" r="2.55"/>
<circle cx="433.49" cy="165.52" r="2.55"/>
<circle cx="436.1" cy="165.52" r="2.55"/>
<circle cx="438.7" cy="165.52" r="2.55"/>
<circle cx="441.3" cy="165.52" r="2.55"/>
<circle cx="443.9" cy="165.52" r="2.55"/>
<circle cx="446.5" cy="165.52" r="2.55"/>
<circle cx="449.11" cy="165.52" r="2.55"/>
<circle cx="451.71" cy="165.52" r="2.55"/>
<circle cx="454.31" cy="165.52" r="2.55"/>
<circle cx="456.92" cy="165.52" r="2.55"/>
<circle cx="459.52" cy="165.52" r="2.55"/>
<circle cx="462.12" cy="165.52" r="2.55"/>
<circle cx="464.72" cy="165.52" r="2.55"/>
<circle cx="467.32" cy="165.52" r="2.55"/>
<circle cx="469.93" cy="165.52" r="2.55"/>
<circle cx="472.53" cy="165.52" r="2.55"/>
<circle cx="475.13" cy="165.52" r="2.55"/>
<circle cx="477.74" cy="165.52" r="2.55"/>
<circle cx="480.34" cy="165.52" r="2.55"/>
<circle cx="482.94" cy="165.52" r="2.55"/>
<circle cx="485.54" cy="165.52" r="2.55"/>
<circle cx="488.14" cy="165.52" r="2.55"/>
<circle cx="490.75" cy="165.52" r="2.55"/>
<circle cx="493.35" cy="165.52" r="2.55"/>
<circle cx="495.95" cy="165.52" r="2.55"/>
<circle cx="498.56" cy="165.52" r="2.55"/>
<circle cx="501.16" cy="165.52" r="2.55"/>
<circle cx="503.76" cy="165.52" r="2.55"/>
<circle cx="506.36" cy="165.52" r="2.55"/>
<circle cx="508.97" cy="165.52" r="2.55"/>
<circle cx="511.57" cy="165.52" r="2.55"/>
<circle cx="514.17" cy="165.52" r="2.55"/>
<circle cx="516.77" cy="165.52" r="2.55"/>
<circle cx="519.38" cy="165.52" r="2.55"/>
<circle cx="521.98" cy="166.69" r="2.55"/>
<circle cx="524.58" cy="166.69" r="2.55"/>
<circle cx="527.18" cy="166.69" r="2.55"/>
<circle cx="529.78" cy="166.69" r="2.55"/>
<circle cx="532.39" cy="166.69" r="2.55"/>
<circle cx="534.99" cy="166.69" r="2.55"/>
<circle cx="537.59" cy="170.5" r="2.55"/>
<circle cx="540.19" cy="172.1" r="2.55"/>
<circle cx="542.8" cy="173.06" r="2.55"/>
<circle cx="545.4" cy="173.62" r="2.55"/>
<circle cx="548" cy="174.66" r="2.55"/>
<circle cx="550.61" cy="176.04" r="2.55"/>
<circle cx="553.21" cy="177.08" r="2.55"/>
<circle cx="555.81" cy="178.12" r="2.55"/>
<circle cx="558.41" cy="182.28" r="2.55"/>
<circle cx="561.01" cy="187.12" r="2.55"/>
<circle cx="563.62" cy="191.28" r="2.55"/>
<circle cx="566.22" cy="193.22" r="2.55"/>
<circle cx="568.82" cy="197.51" r="2.55"/>
<circle cx="571.42" cy="198.2" r="2.55"/>
<circle cx="574.03" cy="202.22" r="2.55"/>
<circle cx="576.63" cy="203.05" r="2.55"/>
<circle cx="579.23" cy="205.27" r="2.55"/>
<circle cx="581.84" cy="209.97" r="2.55"/>
<circle cx="584.44" cy="217.32" r="2.55"/>
<circle cx="587.04" cy="223.48" r="2.55"/>
<circle cx="589.64" cy="224.86" r="2.55"/>
<circle cx="592.25" cy="226.04" r="2.55"/>
<circle cx="594.85" cy="227.15" r="2.55"/>
<circle cx="597.45" cy="227.84" r="2.55"/>
<circle cx="600.05" cy="228.33" r="2.55"/>
<circle cx="602.65" cy="228.67" r="2.55"/>
<circle cx="605.26" cy="229.02" r="2.55"/>
<circle cx="607.86" cy="229.37" r="2.55"/>
<circle cx="610.46" cy="230.75" r="2.55"/>
</g>
<polyline points="404.87,230.75 407.47,227.63 410.07,219.46 412.67,212.05 415.27,209.07 417.88,203.12 420.48,199.45 423.08,203.12 425.69,200.9 428.29,193.49 430.89,199.45 433.49,196.47 436.1,194.26 438.7,192.04 441.3,195.71 443.9,195.02 446.5,194.26 449.11,185.04 451.71,192.73 454.31,191 456.92,194.26 459.52,192.73 462.12,197.23 464.72,191.28 467.32,188.3 469.93,185.67 472.53,186.85 475.13,185.04 477.74,193.49 480.34,194.26 482.94,194.6 485.54,193.49 488.14,194.26 490.75,199.45 493.35,198.69 495.95,205.82 498.56,198.41 501.16,200.9 503.76,198.41 506.36,202.43 508.97,206.86 511.57,208.8 514.17,207.62 516.77,201.66 519.38,201.66 521.98,205.4 524.58,217.25 527.18,202.43 529.78,203.88 532.39,210.6 534.99,206.1 537.59,207.27 540.19,209.84 542.8,206.86 545.4,210.6 548,210.88 550.61,209.07 553.21,209.84 555.81,211.29 558.41,212.05 561.01,216.48 563.62,213.09 566.22,217.59 568.82,222.09 571.42,224.66 574.03,224.86 576.63,223.82 579.23,216.55 581.84,228.46 584.44,226.59 587.04,222.09 589.64,228.67 592.25,218.91 594.85,230.4 597.45,230.75 600.05,206.86 602.65,229.71" fill="none" stroke="#000" stroke-width="1.85" stroke-dasharray="5.4 2.7" stroke-linejoin="round"/>
<polyline points="404.87,230.75 407.47,229.09 410.07,224.66 412.67,221.75 415.27,221.75 417.88,218.01 420.48,215.79 423.08,217.25 425.69,216.48 428.29,213.51 430.89,216.21 433.49,214.75 436.1,212.81 438.7,211.78 441.3,213.23 443.9,213.23 446.5,213.23 449.11,208.31 451.71,212.33 454.31,211.36 456.92,212.81 459.52,211.78 462.12,215.79 464.72,212.05 467.32,210.6 469.93,209.07 472.53,209.35 475.13,208.31 477.74,213.02 480.34,213.02 482.94,213.51 485.54,212.33 488.14,213.85 490.75,215.79 493.35,215.31 495.95,219.74 498.56,215.79 501.16,217.25 503.76,215.31 506.36,217.25 508.97,219.19 511.57,220.22 514.17,219.74 516.77,216.48 519.38,216.21 521.98,218.01 524.58,223.89 527.18,218.01 529.78,219.46 532.39,220.99 534.99,219.19 537.59,220.64 540.19,220.99 542.8,219.74 545.4,221.26 548,221.68 550.61,221.68 553.21,222.44 555.81,223.2 558.41,224.66 561.01,225.9 563.62,225.21 566.22,227.15 568.82,228.67 571.42,229.71 574.03,229.92 576.63,229.78 579.23,228.67 581.84,230.06 584.44,229.92 587.04,229.02 589.64,230.06 592.25,227.98 594.85,230.61 597.45,230.61 600.05,226.59 602.65,230.75" fill="none" stroke="#000" stroke-width="2.0" stroke-linejoin="round"/>
</g>
<g>
<path d="M390 305.25V381.25H653V305.25M387 381.25H390M387 366.15H390M387 351.05H390M387 335.95H390M387 320.85H390M387 305.75H390M653 381.25H656M653 356.08H656M653 330.92H656M653 305.75H656M390 381.25V384.25M416.3 381.25V384.25M442.6 381.25V384.25M468.9 381.25V384.25M495.2 381.25V384.25M521.5 381.25V384.25M547.8 381.25V384.25M574.1 381.25V384.25M600.4 381.25V384.25M626.7 381.25V384.25M653 381.25V384.25" fill="none" stroke="#000" stroke-width="1.35"/>
<text x="380.2" y="383.66" font-size="8.4" text-anchor="end" textLength="5" lengthAdjust="spacingAndGlyphs" transform="rotate(0.04 380.2 383.66)">0</text>
<text x="380.2" y="368.56" font-size="8.4" text-anchor="end" textLength="12.49" lengthAdjust="spacingAndGlyphs" transform="rotate(0.04 380.2 368.56)">0.2</text>
<text x="380.2" y="353.46" font-size="8.4" text-anchor="end" textLength="12.49" lengthAdjust="spacingAndGlyphs" transform="rotate(0.04 380.2 353.46)">0.4</text>
<text x="380.2" y="338.36" font-size="8.4" text-anchor="end" textLength="12.49" lengthAdjust="spacingAndGlyphs" transform="rotate(0.04 380.2 338.36)">0.6</text>
<text x="380.2" y="323.26" font-size="8.4" text-anchor="end" textLength="12.49" lengthAdjust="spacingAndGlyphs" transform="rotate(0.04 380.2 323.26)">0.8</text>
<text x="380.2" y="308.16" font-size="8.4" text-anchor="end" textLength="5" lengthAdjust="spacingAndGlyphs" transform="rotate(0.04 380.2 308.16)">1</text>
<text x="662.6" y="383.76" font-size="8.4" text-anchor="start" textLength="5" lengthAdjust="spacingAndGlyphs" transform="rotate(0.04 662.6 383.76)">0</text>
<text x="662.6" y="358.59" font-size="8.4" text-anchor="start" textLength="5" lengthAdjust="spacingAndGlyphs" transform="rotate(0.04 662.6 358.59)">1</text>
<text x="662.6" y="333.42" font-size="8.4" text-anchor="start" textLength="5" lengthAdjust="spacingAndGlyphs" transform="rotate(0.04 662.6 333.42)">2</text>
<text x="662.6" y="308.26" font-size="8.4" text-anchor="start" textLength="5" lengthAdjust="spacingAndGlyphs" transform="rotate(0.04 662.6 308.26)">3</text>
<text x="390" y="397.84" font-size="9.9" text-anchor="middle" textLength="5.06" lengthAdjust="spacingAndGlyphs" transform="rotate(0.04 390 397.84)">0</text>
<text x="416.3" y="397.84" font-size="9.9" text-anchor="middle" textLength="10.13" lengthAdjust="spacingAndGlyphs" transform="rotate(0.04 416.3 397.84)">10</text>
<text x="442.6" y="397.84" font-size="9.9" text-anchor="middle" textLength="10.13" lengthAdjust="spacingAndGlyphs" transform="rotate(0.04 442.6 397.84)">20</text>
<text x="468.9" y="397.84" font-size="9.9" text-anchor="middle" textLength="10.13" lengthAdjust="spacingAndGlyphs" transform="rotate(0.04 468.9 397.84)">30</text>
<text x="495.2" y="397.84" font-size="9.9" text-anchor="middle" textLength="10.13" lengthAdjust="spacingAndGlyphs" transform="rotate(0.04 495.2 397.84)">40</text>
<text x="521.5" y="397.84" font-size="9.9" text-anchor="middle" textLength="10.13" lengthAdjust="spacingAndGlyphs" transform="rotate(0.04 521.5 397.84)">50</text>
<text x="547.8" y="397.84" font-size="9.9" text-anchor="middle" textLength="10.13" lengthAdjust="spacingAndGlyphs" transform="rotate(0.04 547.8 397.84)">60</text>
<text x="574.1" y="397.84" font-size="9.9" text-anchor="middle" textLength="10.13" lengthAdjust="spacingAndGlyphs" transform="rotate(0.04 574.1 397.84)">70</text>
<text x="600.4" y="397.84" font-size="9.9" text-anchor="middle" textLength="10.13" lengthAdjust="spacingAndGlyphs" transform="rotate(0.04 600.4 397.84)">80</text>
<text x="626.7" y="397.84" font-size="9.9" text-anchor="middle" textLength="10.13" lengthAdjust="spacingAndGlyphs" transform="rotate(0.04 626.7 397.84)">90</text>
<text x="653" y="397.84" font-size="9.9" text-anchor="middle" textLength="15.19" lengthAdjust="spacingAndGlyphs" transform="rotate(0.04 653 397.84)">100</text>
<text x="523.2" y="306.2" font-size="11.4" text-anchor="middle" textLength="64" lengthAdjust="spacingAndGlyphs" transform="rotate(0.04 523.2 306.2)">Spider mite</text>
<text x="521.4" y="414.46" font-size="9.9" text-anchor="middle" textLength="44.7" lengthAdjust="spacingAndGlyphs" transform="rotate(0.04 521.4 414.46)">Age (day)</text>
<text x="360.52" y="348.3" font-size="9.2" text-anchor="middle" textLength="78.4" lengthAdjust="spacingAndGlyphs" transform="rotate(-90 360.52 348.3)">Survival rate (<tspan font-style="italic">Lx</tspan>)</text>
<text x="681.42" y="344" font-size="9.2" text-anchor="middle" textLength="68.6" lengthAdjust="spacingAndGlyphs" transform="rotate(-90 681.42 344)">Fecundity (<tspan font-style="italic">Mx</tspan>)</text>
<polyline points="390,305.75 392.63,305.75 395.26,305.75 397.89,305.75 400.52,305.75 403.15,305.75 405.78,305.75 408.41,305.75 411.04,305.75 413.67,305.75 416.3,305.75 418.93,305.75 421.56,305.75 424.19,305.75 426.82,305.75 429.45,305.75 432.08,308.77 434.71,308.77 437.34,308.77 439.97,308.77 442.6,308.77 445.23,308.77 447.86,310.58 450.49,310.58 453.12,310.58 455.75,314.28 458.38,315.72 461.01,318.58 463.64,319.34 466.27,322.36 468.9,322.36 471.53,322.36 474.16,322.36 476.79,324.62 479.42,327.64 482.05,332.93 484.68,333.69 487.31,335.95 489.94,342.14 492.57,344.25 495.2,344.86 497.83,350.37 500.46,356.56 503.09,361.32 505.72,361.7 508.35,361.7 510.98,365.85 513.61,373.02 516.24,375.13 518.87,376.12 521.5,377.17 524.13,377.78 526.76,378.61 529.39,381.25" fill="none" stroke="#000" stroke-width="0.8"/>
<g fill="#fff" stroke="#000" stroke-width="0.85">
<circle cx="390" cy="305.75" r="2.55"/>
<circle cx="392.63" cy="305.75" r="2.55"/>
<circle cx="395.26" cy="305.75" r="2.55"/>
<circle cx="397.89" cy="305.75" r="2.55"/>
<circle cx="400.52" cy="305.75" r="2.55"/>
<circle cx="403.15" cy="305.75" r="2.55"/>
<circle cx="405.78" cy="305.75" r="2.55"/>
<circle cx="408.41" cy="305.75" r="2.55"/>
<circle cx="411.04" cy="305.75" r="2.55"/>
<circle cx="413.67" cy="305.75" r="2.55"/>
<circle cx="416.3" cy="305.75" r="2.55"/>
<circle cx="418.93" cy="305.75" r="2.55"/>
<circle cx="421.56" cy="305.75" r="2.55"/>
<circle cx="424.19" cy="305.75" r="2.55"/>
<circle cx="426.82" cy="305.75" r="2.55"/>
<circle cx="429.45" cy="305.75" r="2.55"/>
<circle cx="432.08" cy="308.77" r="2.55"/>
<circle cx="434.71" cy="308.77" r="2.55"/>
<circle cx="437.34" cy="308.77" r="2.55"/>
<circle cx="439.97" cy="308.77" r="2.55"/>
<circle cx="442.6" cy="308.77" r="2.55"/>
<circle cx="445.23" cy="308.77" r="2.55"/>
<circle cx="447.86" cy="310.58" r="2.55"/>
<circle cx="450.49" cy="310.58" r="2.55"/>
<circle cx="453.12" cy="310.58" r="2.55"/>
<circle cx="455.75" cy="314.28" r="2.55"/>
<circle cx="458.38" cy="315.72" r="2.55"/>
<circle cx="461.01" cy="318.58" r="2.55"/>
<circle cx="463.64" cy="319.34" r="2.55"/>
<circle cx="466.27" cy="322.36" r="2.55"/>
<circle cx="468.9" cy="322.36" r="2.55"/>
<circle cx="471.53" cy="322.36" r="2.55"/>
<circle cx="474.16" cy="322.36" r="2.55"/>
<circle cx="476.79" cy="324.62" r="2.55"/>
<circle cx="479.42" cy="327.64" r="2.55"/>
<circle cx="482.05" cy="332.93" r="2.55"/>
<circle cx="484.68" cy="333.69" r="2.55"/>
<circle cx="487.31" cy="335.95" r="2.55"/>
<circle cx="489.94" cy="342.14" r="2.55"/>
<circle cx="492.57" cy="344.25" r="2.55"/>
<circle cx="495.2" cy="344.86" r="2.55"/>
<circle cx="497.83" cy="350.37" r="2.55"/>
<circle cx="500.46" cy="356.56" r="2.55"/>
<circle cx="503.09" cy="361.32" r="2.55"/>
<circle cx="505.72" cy="361.7" r="2.55"/>
<circle cx="508.35" cy="361.7" r="2.55"/>
<circle cx="510.98" cy="365.85" r="2.55"/>
<circle cx="513.61" cy="373.02" r="2.55"/>
<circle cx="516.24" cy="375.13" r="2.55"/>
<circle cx="518.87" cy="376.12" r="2.55"/>
<circle cx="521.5" cy="377.17" r="2.55"/>
<circle cx="524.13" cy="377.78" r="2.55"/>
<circle cx="526.76" cy="378.61" r="2.55"/>
<circle cx="529.39" cy="381.25" r="2.55"/>
</g>
<polyline points="403.15,381.25 405.78,373.93 408.41,370.23 411.04,366.53 413.67,357.62 416.3,348.41 418.93,346.52 421.56,345.01 424.19,339.05 426.82,353.92 429.45,351.65 432.08,343.5 434.71,359.05 437.34,355.35 439.97,353.92 442.6,344.25 445.23,353.92 447.86,362.83 450.49,356.86 453.12,352.41 455.75,350.9 458.38,366.53 461.01,357.47 463.64,360.11 466.27,360.87 468.9,357.09 471.53,361.24 474.16,354.45 476.79,362 479.42,371.44 482.05,364.94 484.68,372.19 487.31,373.7 489.94,375.13 492.57,375.13 495.2,373.7 497.83,365.77 500.46,369.93 503.09,373.7 505.72,368.94 508.35,361.7 510.98,356.33 513.61,355.58 516.24,331.57 518.87,354.07 521.5,379.36" fill="none" stroke="#000" stroke-width="1.85" stroke-dasharray="5.4 2.7" stroke-linejoin="round"/>
<polyline points="403.15,381.25 405.78,379.14 408.41,377.63 411.04,376.12 413.67,369.47 416.3,362.83 418.93,361.77 421.56,360.87 424.19,357.32 426.82,366.53 429.45,365.02 432.08,360.87 434.71,370.23 437.34,367.28 439.97,367.28 442.6,359.81 445.23,366.53 447.86,371.66 450.49,369.47 453.12,367.28 455.75,366.53 458.38,374.68 461.01,371.66 463.64,373.17 466.27,373.93 468.9,372.42 471.53,374.68 474.16,371.66 476.79,373.93 479.42,378.08 482.05,376.12 484.68,378.38 487.31,378.83 489.94,379.82 492.57,380.27 495.2,379.97 497.83,378.61 500.46,379.82 503.09,379.97 505.72,379.89 508.35,379.59 510.98,379.21 513.61,379.14 516.24,378.83 518.87,380.34 521.5,381.25" fill="none" stroke="#000" stroke-width="2.0" stroke-linejoin="round"/>
</g>
<rect x="1" y="324" width="1" height="15" fill="#bdbdbd"/>
</svg>
</body></html>
